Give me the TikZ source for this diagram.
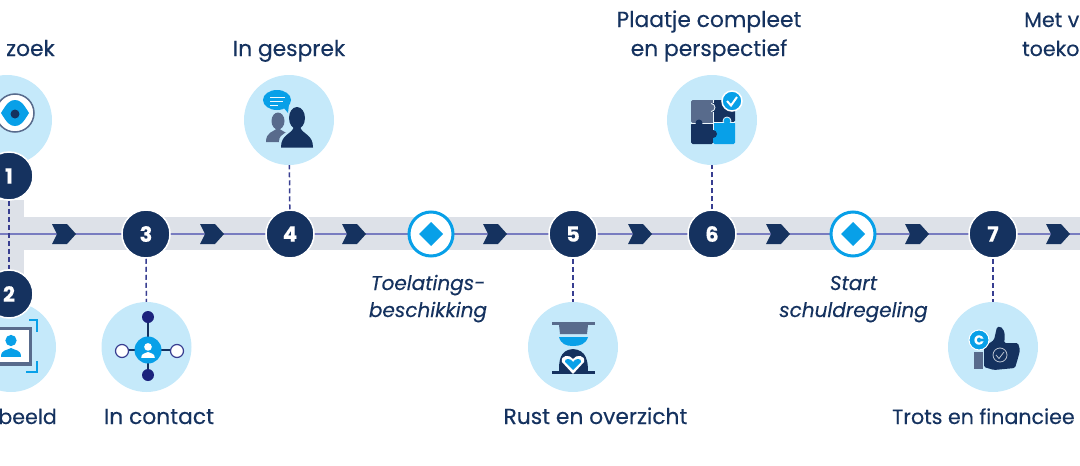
\documentclass[tikz,border=0pt]{standalone}
\usepackage{fontspec}
\setmainfont{Poppins}[FakeBold=0.3,BoldFont={Poppins Bold}]
\usetikzlibrary{positioning}
\definecolor{navy}{RGB}{21,50,95}
\definecolor{slate}{RGB}{88,107,140}
\definecolor{sky}{RGB}{197,233,250}
\definecolor{azure}{RGB}{8,160,232}
\definecolor{band}{RGB}{221,225,232}
\definecolor{lilac}{RGB}{120,124,192}
\definecolor{indigo}{RGB}{28,35,125}
\tikzset{
  x=1pt,y=-1pt,
  badge/.style={circle,fill=navy,draw=white,line width=1.5pt,minimum size=48pt,inner sep=0pt,
    text=white,font=\fontsize{21}{21}\selectfont\bfseries},
  milestone/.style={circle,fill=white,draw=azure,line width=3pt,minimum size=44pt,inner sep=0pt},
  halo/.style={circle,fill=sky,minimum size=90pt,inner sep=0pt},
  lbl/.style={text=navy,font=\fontsize{21.8}{29}\selectfont,align=center,inner sep=0pt},
  lbltight/.style={lbl,font=\fontsize{20.6}{29}\selectfont},
  note/.style={text=navy,font=\fontsize{20}{27}\selectfont\itshape,align=center,inner sep=0pt},
  link/.style={indigo!70!lilac,line width=1.5pt,dashed,dash pattern=on 5pt off 3pt},
  chevron/.pic={\fill[navy] (-12,-10) -- (3,-10) -- (12,0) -- (3,10) -- (-12,10) -- (-7,0) -- cycle;},
  person/.pic={\fill (0,-6) circle (4.5);
    \fill (-8,7) .. controls (-8,1) and (-3,2) .. (0,0) .. controls (3,2) and (8,1) .. (8,7) -- cycle;},
}
\begin{document}
\begin{tikzpicture}
\useasboundingbox (0,0) rectangle (1080,466);
\clip (0,0) rectangle (1080,466);
% band
\fill[band] (0,200) rectangle (24,290);
\fill[band] (0,217) rectangle (1080,250);
\coordinate (start) at (0,234);
\coordinate (end) at (1080,234);
\draw[lilac,line width=2pt] (start) -- (end);
\foreach \x in {64,212,354,495,640,778,917,1058}
  \pic at (\x,234) {chevron};

% halos
\node[halo] (c1) at (7,120) {};
\node[halo] (c2) at (11,347) {};
\node[halo] (c3) at (146.5,347) {};
\node[halo] (c4) at (289,120) {};
\node[halo] (c5) at (573,347) {};
\node[halo] (c6) at (712,120) {};
\node[halo] (c7) at (993,347) {};

% steps
\node[badge] (b1) at (9,176) {1};
\node[badge] (b2) at (9,294) {2};
\node[badge] (b3) at (146,234) {3};
\node[badge] (b4) at (290,234) {4};
\node[milestone] (m1) at (431,234) {};
\node[badge] (b5) at (573,234) {5};
\node[badge] (b6) at (712,234) {6};
\node[milestone] (m2) at (853,234) {};
\node[badge] (b7) at (993,234) {7};
\foreach \m in {m1,m2}
  \fill[azure] (\m) ++(-12,0) -- ++(12,-12) -- ++(12,12) -- ++(-12,12) -- cycle;

% links
\draw[link] (b1) -- (b2);
\draw[link] (b3) -- (c3);
\draw[link] (b4) -- (c4);
\draw[link] (b5) -- (c5);
\draw[link] (b6) -- (c6);
\draw[link] (b7) -- (c7);

% eye
\draw[slate,line width=1.5pt,fill=white] (15,113) circle (19);
\fill[azure] (1,113) .. controls (7,103) and (10,100) .. (15,100) .. controls (20,100) and (23,103) .. (29,113) .. controls (23,123) and (20,126) .. (15,126) .. controls (10,126) and (7,123) .. (1,113) -- cycle;
\fill[navy] (15,114) circle (4.5);

% portrait
\draw[slate,line width=3.5pt,fill=white] (-5,328.5) rectangle (30.5,364);
\pic[azure,scale=1.25] at (11,348) {person};
\draw[azure,line width=1.5pt] (29,320) -- (37,320) -- (37,332);
\draw[azure,line width=1.5pt] (37,361) -- (37,372) -- (26,372);

% contact
\draw[navy,line width=1.5pt] (148,317) -- (148,375);
\draw[navy,line width=1.5pt] (122,350) -- (177,350);
\fill[indigo] (148,317) circle (6);
\fill[indigo] (148,375) circle (6);
\draw[indigo!70!lilac,line width=1.2pt,fill=white] (122,351) circle (6.5);
\draw[indigo!70!lilac,line width=1.2pt,fill=white] (177,351) circle (6.5);
\fill[azure] (148,350) circle (13.5);
\pic[white,scale=0.85] at (148,352) {person};

% conversation
\fill[slate] (278,121) ellipse (6.5 and 8.5);
\fill[slate] (266,142) .. controls (266,132) and (273,132) .. (278,128) .. controls (283,132) and (290,132) .. (290,142) -- cycle;
\fill[sky] (283,147) -- (279,142) .. controls (279,132) and (290,133) .. (293,128) -- (301,128) -- (301,147) -- cycle;
\fill[navy] (297,118) ellipse (8 and 11);
\fill[navy] (281,147.5) .. controls (281,134) and (291,135) .. (294,127) -- (300,127) .. controls (303,135) and (313,134) .. (313,147.5) -- cycle;
\fill[azure] (277,100) ellipse (14 and 10);
\fill[azure] (283,107) -- (288,113) -- (289,104) -- cycle;
\draw[white!80!sky,line width=1pt] (270,97) -- (285,97) (270,101) -- (283,101) (270,105) -- (278,105);

% scale
\fill[slate] (552,321.5) rectangle (595,325);
\fill[slate] (559,325) -- (588,325) -- (587,334) -- (560,334) -- cycle;
\fill[azure] (559,337) -- (588,337) .. controls (586,344) and (580,346) .. (573,346) .. controls (566,346) and (561,344) .. (559,337) -- cycle;
\fill[navy] (559,372) .. controls (559,362) and (559,350) .. (573,349) .. controls (587,350) and (588,362) .. (588,372) -- cycle;
\fill[navy] (552,371) rectangle (595,373.5);
\fill[white] (573,374) -- (562,362) .. controls (560,355) and (570,354) .. (573,359) .. controls (576,354) and (586,355) .. (584,362) -- cycle;
\fill[azure] (573,370) -- (565,362) .. controls (564,358) and (571,358) .. (573,362) .. controls (575,358) and (582,358) .. (581,362) -- cycle;

% puzzle
\fill[slate,rounded corners=1.5pt] (691,100) rectangle (714,123);
\fill[navy,rounded corners=1.5pt] (713,100) rectangle (735,122);
\fill[navy,rounded corners=1.5pt] (691,123) rectangle (713,144);
\fill[azure,rounded corners=1.5pt] (713,122) rectangle (735,144);
\fill[navy] (713,134) circle (4);
\draw[white!70!sky,line width=0.8pt,fill=azure] (727,121) circle (4);
\fill[azure] (722,122.5) rectangle (732,126);
\draw[white!70!sky,line width=0.8pt,fill=slate] (711,107.5) circle (4);
\fill[slate] (706,102) rectangle (711,113);
\draw[white!70!sky,line width=0.8pt] (713,100) -- (713,103) (713,112) -- (713,130) (713,122) -- (723,122) (731,122) -- (735,122) (691,123) -- (713,123);
\fill[navy] (699,123) circle (3.5);
\draw[white,line width=1.5pt,fill=azure] (732,101) circle (10);
\draw[white,line width=2pt] (727,101) -- (731,105.5) -- (737,97);

% thumb
\fill[slate] (974,352) rectangle (983,369);
\fill[navy,rounded corners=1.5pt] (984,347) -- (994,340) -- (997,327) .. controls (1003,326) and (1006,333) .. (1004,343) -- (1018,343) -- (1020,350) -- (1018,358) -- (1015,368) -- (994,370) -- (984,367) -- cycle;
\draw[white!60!slate,line width=0.8pt] (1000,355) circle (7);
\draw[white!60!slate,line width=0.8pt] (996,355) -- (999,358.5) -- (1004,352);
\draw[white,line width=1pt,fill=azure] (979,340) circle (10);
\node[white,font=\fontsize{13}{13}\selectfont\bfseries,inner sep=0pt] (coin) at (979,340) {C};

% labels
\node[lbl,anchor=base east] (t1) at (55,56) {zoek};
\node[lbltight,anchor=base east] (t2) at (57,424) {beeld};
\node[lbl,anchor=base] (t3) at (159,424) {In contact};
\node[lbl,anchor=base] (t4) at (289,56) {In gesprek};
\node[note,anchor=base] (n1) at (428,317) {Toelatings-\\beschikking};
\node[lbl,anchor=base] (t5) at (595.5,424) {Rust en overzicht};
\node[lbl,anchor=base] (t6) at (709,56) {Plaatje compleet\\en perspectief};
\node[note,anchor=base] (n2) at (853.5,317) {Start\\schuldregeling};
\node[lbltight,anchor=base west] (t7) at (892,424) {Trots en financiee};
\node[lbltight,anchor=base west] (t8a) at (1024,27) {Met v};
\node[lbltight,anchor=base west] (t8b) at (1022,56) {toeko};
\end{tikzpicture}
\end{document}
